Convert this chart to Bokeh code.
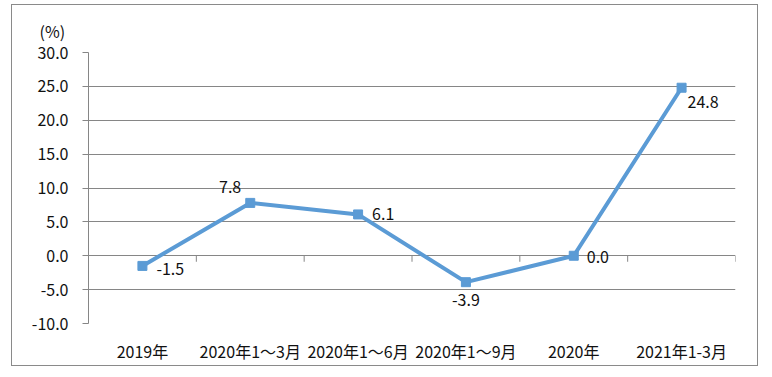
from bokeh.plotting import figure
from bokeh.models import Range1d, FixedTicker, NumeralTickFormatter, ColumnDataSource
from bokeh.core.properties import value
from bokeh.embed import file_html
from bokeh.resources import INLINE
import math

categories = ["2019年", "2020年1～3月", "2020年1～6月", "2020年1～9月", "2020年", "2021年1-3月"]
growth = [-1.5, 7.8, 6.1, -3.9, 0.0, 24.8]
value_labels = ["-1.5", "7.8", "6.1", "-3.9", "0.0", "24.8"]
y_ticks = [-10, -5, 0, 5, 10, 15, 20, 25, 30]
unit_label = "(%)"

# label placement (styling)
label_dx = [14, -9, 14, 0, 13, 6]
label_dy = [3, -16, 0, 18, 1, 14]
label_align = ["left", "right", "left", "center", "left", "left"]

FONT = "Noto Sans CJK SC"
LINE = "#5B9BD5"
GRID = "#868686"
FS = "16px"

n = len(categories)
xs = [i + 0.5 for i in range(n)]
bounds = [i + 1 for i in range(n)]

p = figure(width=745, height=360, x_range=Range1d(0, n), y_range=Range1d(-10, 30),
           output_backend="svg", toolbar_location=None,
           min_border_left=76, min_border_right=22, min_border_top=47, min_border_bottom=42)
p.margin = (5, 0, 0, 12)
p.styles = {"outline": "1px solid #8a8a8a"}
p.outline_line_color = None
p.background_fill_color = "white"
p.border_fill_color = "white"

# unit label as title
p.title.text = unit_label
p.title.align = "left"
p.title.offset = -49
p.title.standoff = 19
p.title.text_font = FONT
p.title.text_font_size = FS
p.title.text_font_style = "normal"
p.title.text_color = "#111111"

# x axis
p.xaxis.ticker = FixedTicker(ticks=xs)
p.xaxis.major_label_overrides = {x: c for x, c in zip(xs, categories)}
p.xaxis.axis_line_color = None
p.xaxis.major_tick_line_color = None
p.xaxis.minor_tick_line_color = None
p.xaxis.major_tick_out = 0
p.xaxis.major_label_standoff = 15
p.xaxis.major_label_text_font = FONT
p.xaxis.major_label_text_font_size = FS
p.xaxis.major_label_text_color = "#111111"
p.xgrid.grid_line_color = None

# y axis
p.yaxis.ticker = FixedTicker(ticks=y_ticks)
p.yaxis.formatter = NumeralTickFormatter(format="0.0")
p.yaxis.axis_line_color = GRID
p.yaxis.major_tick_line_color = GRID
p.yaxis.minor_tick_line_color = None
p.yaxis.major_tick_out = 6
p.yaxis.major_tick_in = 0
p.yaxis.major_label_standoff = 14
p.yaxis.major_label_text_font = FONT
p.yaxis.major_label_text_font_size = FS
p.yaxis.major_label_text_color = "#111111"
p.ygrid.ticker = FixedTicker(ticks=y_ticks)
p.ygrid.grid_line_color = GRID
p.ygrid.grid_line_width = 1

# category boundary ticks on the zero line
p.ray(x=bounds, y=[0] * n, length=6, angle=-math.pi / 2, length_units="screen",
      line_color=GRID, line_width=1)

src = ColumnDataSource(dict(x=xs, y=growth, lab=value_labels, dx=label_dx, dy=label_dy, al=label_align))
p.line("x", "y", source=src, line_color=LINE, line_width=4)
p.scatter("x", "y", source=src, marker="square", size=9, fill_color=LINE, line_color=LINE)
p.text("x", "y", text="lab", source=src, x_offset="dx", y_offset="dy", text_align="al",
       text_baseline="middle", text_font=value(FONT), text_font_size=FS, text_color="#111111")

open("out.html", "w").write(file_html(p, INLINE))
